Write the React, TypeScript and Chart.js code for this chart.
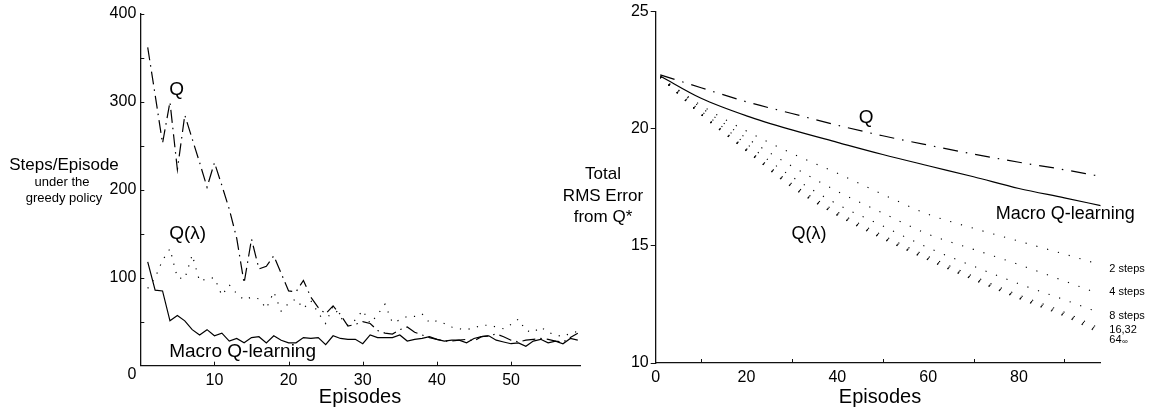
import React, { useEffect, useRef } from "react";
import { Chart, registerables } from "chart.js";
Chart.register(...registerables);

const FONT = "'Liberation Sans', Arial, Helvetica, sans-serif";

// ---------- Left chart data (Steps/Episode) ----------
const leftEpisodes = [1,2,3,4,5,6,7,8,9,10,11,12,13,14,15,16,17,18,19,20,21,22,23,24,25,26,27,28,29,30,31,32,33,34,35,36,37,38,39,40,41,42,43,44,45,46,47,48,49,50,51,52,53,54,55,56,57,58,59];
const leftQ = [362,308,253,300,223,285,258,231,203,231,205,178,145,94,144,110,113,125,105,85,84,97,78,66,59,68,58,45,47,50,48,40,37,36,41,44,38,35,32,30,28,28,29,30,28,33,34,36,33,29,27,29,30,31,30,28,27,32,37];
const leftQLambda = [88,100,120,133,100,99,126,96,99,100,80,92,82,75,78,76,65,84,62,71,76,65,74,60,48,68,55,46,52,63,48,58,70,49,52,56,56,59,49,51,48,44,42,41,43,46,46,44,42,47,53,40,38,44,38,35,33,37,39];
const leftMacro = [118,86,85,51,57,51,41,35,41,34,37,28,31,26,32,33,26,34,29,26,26,32,31,32,24,34,31,30,30,25,35,32,32,32,35,28,30,31,33,30,28,29,29,26,31,33,34,29,27,25,26,22,28,30,26,28,25,31,29];
const leftYTickLabels = [100, 200, 300, 400];
const leftYTickMarks = [50, 100, 150, 200, 250, 300, 350, 400];
const leftXTicks = [10, 20, 30, 40, 50];

// ---------- Right chart data (Total RMS Error) ----------
const rightMacroEpisodes = [1, 10, 20, 30, 40, 50, 60, 70, 80, 90, 98];
const rightMacro = [22.25, 21.3, 20.55, 19.95, 19.42, 18.9, 18.42, 17.95, 17.45, 17.05, 16.72];
const rightQEpisodes = [1, 10, 20, 30, 40, 50, 60, 70, 80, 90, 97];
const rightQ = [22.3, 21.75, 21.15, 20.65, 20.15, 19.7, 19.3, 18.92, 18.57, 18.25, 18.0];
const rightLambdaEpisodes = [1, 10, 20, 30, 40, 50, 60, 70, 80, 90, 97];
const rightLambda2 = [22.2, 21.0, 19.9, 18.95, 18.1, 17.2, 16.35, 15.75, 15.2, 14.65, 14.25];
const rightLambda4 = [22.2, 20.9, 19.6, 18.4, 17.33, 16.4, 15.5, 14.85, 14.2, 13.5, 13.0];
const rightLambda8 = [22.2, 20.75, 19.35, 17.95, 16.78, 15.85, 14.92, 14.13, 13.38, 12.7, 12.2];
const rightLambda16 = [22.2, 20.65, 19.15, 17.65, 16.45, 15.45, 14.55, 13.7, 12.9, 12.17, 11.55];
const rightLambda32 = [22.2, 20.62, 19.1, 17.58, 16.38, 15.38, 14.48, 13.63, 12.83, 12.1, 11.47];
const rightLambda64 = [22.2, 20.61, 19.07, 17.53, 16.33, 15.33, 14.43, 13.58, 12.78, 12.04, 11.4];
const rightLambdaInf = [22.2, 20.6, 19.05, 17.5, 16.3, 15.3, 14.4, 13.55, 12.75, 12.0, 11.35];
const rightYTicks = [10, 15, 20, 25];
const rightXTickLabels = [0, 20, 40, 60, 80];
const rightXMinorTicks = [10, 30, 50, 70, 90];

const pts = (xs: number[], ys: number[]) => xs.map((x, i) => ({ x, y: ys[i] }));

type Ann = { text: string; x: number; y: number; size: number; sub?: string };
type Title = { text: string; px: number; py: number; size: number };

function decor(opts: {
  xTicks: number[]; xTickLen: number;
  yTicks: number[]; yTickLen: number;
  anns: Ann[]; titles: Title[];
  extra?: (chart: any) => void;
}) {
  return {
    id: "decor",
    afterDraw(chart: any) {
      const ctx = chart.ctx as CanvasRenderingContext2D;
      const xs = chart.scales.x, ys = chart.scales.y;
      ctx.save();
      ctx.strokeStyle = "#111";
      ctx.lineWidth = 1;
      for (const t of opts.xTicks) {
        const px = Math.round(xs.getPixelForValue(t)) + 0.5;
        ctx.beginPath();
        ctx.moveTo(px, ys.bottom);
        ctx.lineTo(px, ys.bottom - opts.xTickLen);
        ctx.stroke();
      }
      for (const t of opts.yTicks) {
        const py = Math.round(ys.getPixelForValue(t)) + 0.5;
        ctx.beginPath();
        ctx.moveTo(xs.left, py);
        ctx.lineTo(xs.left + opts.yTickLen, py);
        ctx.stroke();
      }
      ctx.fillStyle = "#000";
      ctx.textBaseline = "middle";
      for (const a of opts.anns) {
        ctx.font = `${a.size}px ${FONT}`;
        ctx.textAlign = "left";
        const px = xs.getPixelForValue(a.x), py = ys.getPixelForValue(a.y);
        ctx.fillText(a.text, px, py);
        if (a.sub) {
          const w = ctx.measureText(a.text).width;
          ctx.font = `${Math.round(a.size * 0.7)}px ${FONT}`;
          ctx.fillText(a.sub, px + w + 0.5, py + 2);
        }
      }
      for (const t of opts.titles) {
        ctx.font = `${t.size}px ${FONT}`;
        ctx.textAlign = "center";
        ctx.fillText(t.text, t.px, t.py);
      }
      if (opts.extra) opts.extra(chart);
      ctx.restore();
    },
  };
}

export default function App() {
  const leftRef = useRef<HTMLCanvasElement>(null);
  const rightRef = useRef<HTMLCanvasElement>(null);

  useEffect(() => {
    Chart.defaults.font.family = FONT;
    Chart.defaults.color = "#000";

    const axisCommon = {
      grid: { display: true, drawOnChartArea: false, drawTicks: false },
      border: { display: true, color: "#111", width: 1.3 },
    };

    const left = new Chart(leftRef.current!, {
      type: "line",
      data: {
        datasets: [
          { label: "Q", data: pts(leftEpisodes, leftQ), borderColor: "#000", borderWidth: 1.2, borderDash: [13, 5, 1.5, 5], pointRadius: 0, tension: 0 },
          { label: "Q(λ)", data: pts(leftEpisodes, leftQLambda), borderColor: "#000", borderWidth: 1.2, borderDash: [1.2, 7.5], pointRadius: 0, tension: 0 },
          { label: "Macro Q-learning", data: pts(leftEpisodes, leftMacro), borderColor: "#000", borderWidth: 1.2, pointRadius: 0, tension: 0 },
        ],
      },
      options: {
        responsive: false,
        animation: false,
        events: [],
        layout: { padding: { left: 0, right: 5, top: 14, bottom: 0 } },
        plugins: { legend: { display: false }, tooltip: { enabled: false } },
        scales: {
          x: {
            type: "linear", min: 0, max: 59.3,
            ...axisCommon,
            afterBuildTicks: (s: any) => { s.ticks = leftXTicks.map((v) => ({ value: v })); },
            afterFit: (s: any) => { s.height = 47.3; },
            ticks: { font: { size: 16 }, padding: 5, maxRotation: 0, autoSkip: false },
          },
          y: {
            type: "linear", min: 0, max: 400,
            ...axisCommon,
            afterBuildTicks: (s: any) => { s.ticks = leftYTickLabels.map((v) => ({ value: v })); },
            afterFit: (s: any) => { s.width = 140.3; },
            ticks: { font: { size: 16 }, padding: 4, autoSkip: false },
          },
        },
      },
      plugins: [
        decor({
          xTicks: leftXTicks, xTickLen: 4,
          yTicks: leftYTickMarks, yTickLen: 4,
          anns: [
            { text: "Q", x: 3.9, y: 314, size: 19 },
            { text: "Q(λ)", x: 3.9, y: 150, size: 19 },
            { text: "Macro Q-learning", x: 3.9, y: 15.5, size: 19 },
          ],
          titles: [
            { text: "Steps/Episode", px: 64, py: 165, size: 17 },
            { text: "under the", px: 62, py: 182, size: 13 },
            { text: "greedy policy", px: 64, py: 198, size: 13 },
            { text: "Episodes", px: 360, py: 397, size: 20 },
          ],
          extra: (chart: any) => {
            const ctx = chart.ctx as CanvasRenderingContext2D;
            const ys = chart.scales.y;
            ctx.font = `16px ${FONT}`;
            ctx.textAlign = "right";
            ctx.textBaseline = "middle";
            ctx.fillText("0", ys.right - 4, ys.getPixelForValue(0) + 9);
          },
        }) as any,
      ],
    } as any);

    const dotted = (label: string, ys: number[]) => ({
      label, data: pts(rightLambdaEpisodes, ys), borderColor: "#000", borderWidth: 1.1,
      borderDash: [1.2, 10], pointRadius: 0, cubicInterpolationMode: "monotone",
    });

    const right = new Chart(rightRef.current!, {
      type: "line",
      data: {
        datasets: [
          { label: "Q", data: pts(rightQEpisodes, rightQ), borderColor: "#000", borderWidth: 1.2, borderDash: [15, 8, 1.5, 8], pointRadius: 0, cubicInterpolationMode: "monotone" },
          { label: "Macro Q-learning", data: pts(rightMacroEpisodes, rightMacro), borderColor: "#000", borderWidth: 1.2, pointRadius: 0, cubicInterpolationMode: "monotone" },
          dotted("2 steps", rightLambda2),
          dotted("4 steps", rightLambda4),
          dotted("8 steps", rightLambda8),
          dotted("16", rightLambda16),
          dotted("32", rightLambda32),
          dotted("64", rightLambda64),
          dotted("∞", rightLambdaInf),
        ],
      },
      options: {
        responsive: false,
        animation: false,
        events: [],
        layout: { padding: { left: 0, right: 57.3, top: 10.7, bottom: 0 } },
        plugins: { legend: { display: false }, tooltip: { enabled: false } },
        scales: {
          x: {
            type: "linear", min: 0, max: 98,
            ...axisCommon,
            afterBuildTicks: (s: any) => { s.ticks = rightXTickLabels.map((v) => ({ value: v })); },
            afterFit: (s: any) => { s.height = 50; },
            ticks: { font: { size: 16 }, padding: 5, maxRotation: 0, autoSkip: false },
          },
          y: {
            type: "linear", min: 10, max: 25,
            grid: { display: true, drawOnChartArea: false, drawTicks: true, tickLength: 5, color: "#111" },
            border: { display: true, color: "#111", width: 1.3 },
            afterBuildTicks: (s: any) => { s.ticks = rightYTicks.map((v) => ({ value: v })); },
            afterFit: (s: any) => { s.width = 110.7; },
            ticks: { font: { size: 16 }, padding: 2, autoSkip: false },
          },
        },
      },
      plugins: [
        decor({
          xTicks: rightXMinorTicks, xTickLen: 4,
          yTicks: [], yTickLen: 0,
          anns: [
            { text: "Q", x: 44.7, y: 20.47, size: 19 },
            { text: "Macro Q-learning", x: 74.9, y: 16.36, size: 18 },
            { text: "Q(λ)", x: 29.9, y: 15.49, size: 18 },
            { text: "2 steps", x: 99.9, y: 14.0, size: 11 },
            { text: "4 steps", x: 99.9, y: 13.02, size: 11 },
            { text: "8 steps", x: 99.9, y: 12.02, size: 11 },
            { text: "16,32", x: 99.9, y: 11.4, size: 11 },
            { text: "64", x: 99.9, y: 10.98, size: 11, sub: "∞" },
          ],
          titles: [
            { text: "Total", px: 603 - 545, py: 174, size: 17 },
            { text: "RMS Error", px: 603 - 545, py: 196, size: 17 },
            { text: "from Q*", px: 603 - 545, py: 217, size: 17 },
            { text: "Episodes", px: 880 - 545, py: 397, size: 20 },
          ],
        }) as any,
      ],
    } as any);

    return () => { left.destroy(); right.destroy(); };
  }, []);

  return (
    <div style={{ position: "fixed", left: 0, top: 0, width: 1158, height: 413, background: "#fff" }}>
      <canvas ref={leftRef} width={585} height={413} style={{ position: "absolute", left: 0, top: 0 }} />
      <canvas ref={rightRef} width={613} height={413} style={{ position: "absolute", left: 545, top: 0 }} />
    </div>
  );
}
